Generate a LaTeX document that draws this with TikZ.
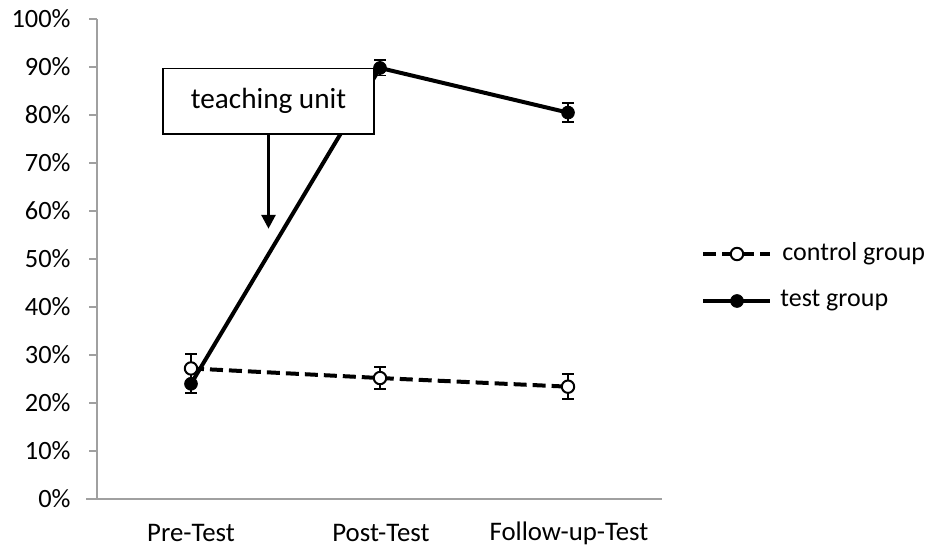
\documentclass[tikz,border=0pt]{standalone}
\usepackage{fontspec}
\setmainfont{Carlito}
\usetikzlibrary{calc}
\usetikzlibrary{arrows.meta}
\definecolor{axisgray}{RGB}{160,160,160}

\begin{document}
\begin{tikzpicture}[x=0.5pt,y=2.4pt,font=\fontsize{13.2}{15}\selectfont,axis/.style={draw=axisgray,line width=0.8pt},tick label/.style={anchor=east,inner sep=0},cat label/.style={inner sep=0,font=\fontsize{13.4}{16}\selectfont},open dot/.style={circle,draw,fill=white,line width=1pt,minimum size=6.2pt,inner sep=0},full dot/.style={circle,draw,fill,minimum size=6.4pt,inner sep=0},control line/.style={draw,line width=2pt,dash pattern=on 6.5pt off 3pt},test line/.style={draw,line width=2pt},errbar/.style={draw,line width=0.8pt},note box/.style={rectangle,draw,fill=white,line width=0.9pt,minimum width=105.5pt,minimum height=32.6pt,font=\fontsize{14.6}{17}\selectfont},legend text/.style={anchor=west,inner sep=0,font=\fontsize{13}{15}\selectfont}]
  \useasboundingbox (0,-9.792) rectangle (937,103.958);
  % axes
  \coordinate (origin) at (97,0);
  \coordinate (ytop) at (97,100);
  \coordinate (xleft) at (86,0);
  \coordinate (xright) at (662,0);
  \path[axis] (origin) -- (ytop);
  \path[axis] (xleft) -- (xright);
  \path[axis] (89,10) -- (97,10) (89,20) -- (97,20) (89,30) -- (97,30) (89,40) -- (97,40) (89,50) -- (97,50) (89,60) -- (97,60) (89,70) -- (97,70) (89,80) -- (97,80) (89,90) -- (97,90) (89,100) -- (97,100);
  \node[tick label] (l0) at (71,0) {0\%};
  \node[tick label] (l10) at (71,10) {10\%};
  \node[tick label] (l20) at (71,20) {20\%};
  \node[tick label] (l30) at (71,30) {30\%};
  \node[tick label] (l40) at (71,40) {40\%};
  \node[tick label] (l50) at (71,50) {50\%};
  \node[tick label] (l60) at (71,60) {60\%};
  \node[tick label] (l70) at (71,70) {70\%};
  \node[tick label] (l80) at (71,80) {80\%};
  \node[tick label] (l90) at (71,90) {90\%};
  \node[tick label] (l100) at (71,100) {100\%};
  \node[cat label] (pre) at (191,-7.1) {Pre-Test};
  \node[cat label] (post) at (381,-7.1) {Post-Test};
  \node[cat label] (follow) at (569,-7.1) {Follow-up-Test};
  % data points
  \coordinate (c1) at (191,27.2);
  \coordinate (c2) at (380,25.2);
  \coordinate (c3) at (568,23.4);
  \coordinate (t1) at (191,24.0);
  \coordinate (t2) at (380,89.8);
  \coordinate (t3) at (568,80.5);
  \path[control line] (c1) -- (c2) -- (c3);
  \path[test line] (t1) -- (t2) -- (t3);
  % annotation
  \node[note box] (unit) at (268.5,82.9) {teaching unit};
  \coordinate (unittip) at (268.5,56.3);
  \path[draw,line width=1.5pt,-{Triangle[length=7pt,width=7pt]}] (unit.south) -- (unittip);
  % error bars
  \path[errbar] ($(c1)+(0,-2.7)$) -- ($(c1)+(0,3.0)$) ($(c1)+(-6,3.0)$) -- ($(c1)+(6,3.0)$);
  \path[errbar] ($(c2)+(0,-2.3)$) -- ($(c2)+(0,2.3)$) ($(c2)+(-6,2.3)$) -- ($(c2)+(6,2.3)$) ($(c2)+(-6,-2.3)$) -- ($(c2)+(6,-2.3)$);
  \path[errbar] ($(c3)+(0,-2.6)$) -- ($(c3)+(0,2.6)$) ($(c3)+(-6,2.6)$) -- ($(c3)+(6,2.6)$) ($(c3)+(-6,-2.6)$) -- ($(c3)+(6,-2.6)$);
  \path[errbar] ($(t1)+(0,-1.9)$) -- ($(t1)+(0,1.9)$) ($(t1)+(-6,-1.9)$) -- ($(t1)+(6,-1.9)$);
  \path[errbar] ($(t2)+(0,-1.6)$) -- ($(t2)+(0,1.6)$) ($(t2)+(-6,1.6)$) -- ($(t2)+(6,1.6)$) ($(t2)+(-6,-1.6)$) -- ($(t2)+(6,-1.6)$);
  \path[errbar] ($(t3)+(0,-2.0)$) -- ($(t3)+(0,2.0)$) ($(t3)+(-6,2.0)$) -- ($(t3)+(6,2.0)$) ($(t3)+(-6,-2.0)$) -- ($(t3)+(6,-2.0)$);
  \node[open dot] (cd1) at (c1) {};
  \node[open dot] (cd2) at (c2) {};
  \node[open dot] (cd3) at (c3) {};
  \node[full dot] (td1) at (t1) {};
  \node[full dot] (td2) at (t2) {};
  \node[full dot] (td3) at (t3) {};
  % legend
  \coordinate (lc1) at (703,51.04);
  \coordinate (lc2) at (770,51.04);
  \coordinate (lt1) at (703,41.25);
  \coordinate (lt2) at (770,41.25);
  \path[control line] (lc1) -- (lc2);
  \path[test line] (lt1) -- (lt2);
  \node[open dot] (lcd) at (737,51.04) {};
  \node[full dot] (ltd) at (737,41.25) {};
  \node[legend text] (lctext) at (782,51.04) {control group};
  \node[legend text] (lttext) at (780,41.25) {test group};
\end{tikzpicture}
\end{document}
